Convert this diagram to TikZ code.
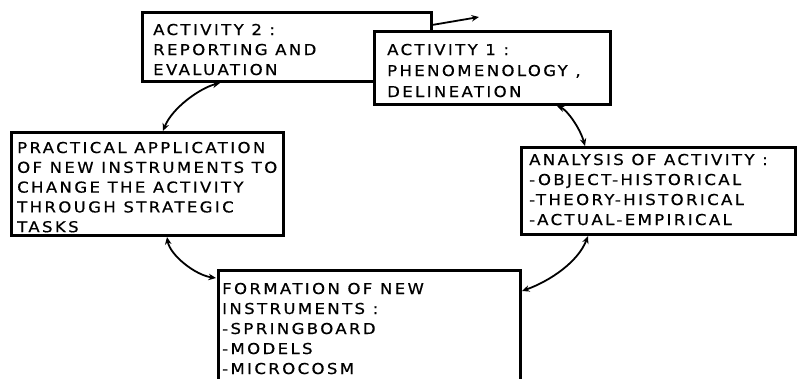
\documentclass[tikz,border=0pt]{standalone}
\usepackage{fontspec}
\setmainfont{DejaVu Sans}[LetterSpace=16,FakeStretch=1.1,FakeBold=0.6]
\usetikzlibrary{arrows.meta,calc}
\begin{document}
\begin{tikzpicture}[x=1pt,y=-1pt,
  box/.style={draw=black, line width=3pt, fill=white, rectangle, inner sep=0pt, outer sep=0pt, anchor=north west},
  txt/.style={anchor=base west, inner sep=0pt, font=\fontsize{15}{20}\selectfont},
  conn/.style={line width=1.8pt, {Stealth[length=7.5pt,width=6.5pt]}-{Stealth[length=7.5pt,width=6.5pt]}},
]
\useasboundingbox[fill=white] (0,0) rectangle (798,378);
% Activity 2 (behind Activity 1)
\node[box, minimum width=289pt, minimum height=69pt] (a2) at (142,12) {};
\node[txt] (ta2) at (153,35) {\parbox[t]{300pt}{ACTIVITY 2 :\\REPORTING AND\\EVALUATION}};
% Activity 1
\node[box, minimum width=236pt, minimum height=73pt] (a1) at (374,31) {};
\node[txt, font=\fontsize{15}{21}\selectfont] (ta1) at (387,55) {\parbox[t]{300pt}{ACTIVITY 1 :\\PHENOMENOLOGY ,\\DELINEATION}};
% Practical application
\node[box, minimum width=272pt, minimum height=103pt] (pr) at (11,132) {};
\node[txt, font=\fontsize{15}{19.8}\selectfont] (tpr) at (17,153) {\parbox[t]{300pt}{PRACTICAL APPLICATION\\OF NEW INSTRUMENTS TO\\CHANGE THE ACTIVITY\\THROUGH STRATEGIC\\TASKS}};
% Analysis
\node[box, minimum width=274pt, minimum height=87pt] (an) at (521,147) {};
\node[txt, font=\fontsize{15}{20}\selectfont] (tan) at (529,165) {\parbox[t]{300pt}{ANALYSIS OF ACTIVITY :\\-OBJECT-HISTORICAL\\-THEORY-HISTORICAL\\-ACTUAL-EMPIRICAL}};
% Formation
\node[box, minimum width=302pt, minimum height=130pt] (fo) at (218,270) {};
\node[txt, font=\fontsize{15}{20}\selectfont] (tfo) at (222,294) {\parbox[t]{300pt}{FORMATION OF NEW\\INSTRUMENTS :\\-SPRINGBOARD\\-MODELS\\-MICROCOSM}};
% connector end points
\coordinate (s1) at ($(a2.south west)+(78,2)$);
\coordinate (e1) at ($(pr.north west)+(152,-1)$);
\coordinate (s2) at ($(a1.south west)+(183,2)$);
\coordinate (e2) at ($(an.north west)+(64,-1)$);
\coordinate (s3) at ($(pr.south west)+(156,2)$);
\coordinate (e3) at ($(fo.north west)+(-2,8)$);
\coordinate (s4) at ($(an.south west)+(67,2)$);
\coordinate (e4) at ($(fo.north east)+(2,21)$);
\coordinate (st) at ($(a2.north east)+(1,13)$);
\coordinate (et) at (479,17);
\draw[conn] (s1) .. controls (200,88) and (172,108) .. (e1);
\draw[conn] (s2) .. controls (567,110) and (580,128) .. (e2);
\draw[conn] (s3) .. controls (170,255) and (195,275) .. (e3);
\draw[conn] (s4) .. controls (578,262) and (550,281) .. (e4);
\draw[line width=1.8pt, -{Stealth[length=7.5pt,width=6.5pt]}] (st) -- (et);
\end{tikzpicture}
\end{document}
